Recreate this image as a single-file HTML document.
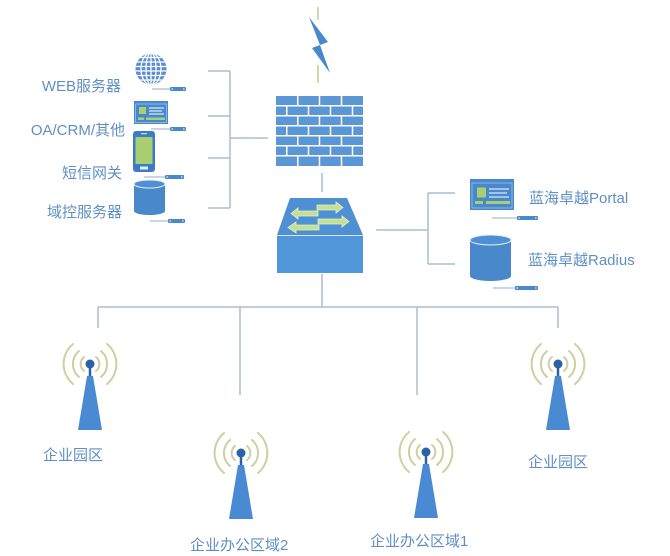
<!DOCTYPE html>
<html><head><meta charset="utf-8"><style>
html,body{margin:0;padding:0;background:#fff;}
svg{display:block;}
text{font-family:"Liberation Sans","Noto Sans CJK SC",sans-serif;font-size:15px;fill:#5f8fc4;}
</style></head><body>
<svg width="670" height="556" viewBox="0 0 670 556" xmlns="http://www.w3.org/2000/svg">
<rect width="670" height="556" fill="#fff"/>
<defs>
<clipPath id="gc"><circle cx="151" cy="69" r="15.5"/></clipPath>
</defs>

<!-- connector lines -->
<g stroke="#a9bdd2" stroke-width="1.5" fill="none">
<path d="M208 71H230M208 116H230M208 158H230M208 208H230M230 71V208M230 138H268"/>
<path d="M322 173V192M322 274V307"/>
<path d="M376 230H428M428 193V264M428 193H455M428 264H455"/>
<path d="M98 307H558M98 307V328M240 307V395M417 307V395M558 307V328"/>
</g>

<!-- lightning -->
<g stroke="#c8c99a" stroke-width="1.5"><path d="M318 7V20M318 65V83"/></g>
<polygon points="309,17 328,42 320,45 330,73 312,48 320,45" fill="#4a88cc"/>

<!-- firewall -->
<rect x="276" y="96" width="87" height="70" fill="#5b96d5"/>
<g stroke="#fff" stroke-width="1.5">
<path d="M276 105.75H363M276 115.75H363M276 125.75H363M276 135.75H363M276 145.75H363M276 155.75H363"/>
<path d="M297.75 96V105M319.5 96V105M341.5 96V105"/>
<path d="M286.75 106V115M308.5 106V115M330.5 106V115M352.5 106V115"/>
<path d="M297.75 116V125M319.5 116V125M341.5 116V125"/>
<path d="M286.75 126V135M308.5 126V135M330.5 126V135M352.5 126V135"/>
<path d="M297.75 136V145M319.5 136V145M341.5 136V145"/>
<path d="M286.75 146V155M308.5 146V155M330.5 146V155M352.5 146V155"/>
<path d="M297.75 156V166M319.5 156V166M341.5 156V166"/>
</g>

<!-- switch -->
<polygon points="290,198 347,198 363,235 277,235" fill="#4f8fd3"/>
<rect x="277" y="236" width="86" height="37" fill="#5196da"/>
<line x1="277" y1="235.5" x2="363" y2="235.5" stroke="#d8e6f5" stroke-width="1"/>
<g fill="#c5e094" stroke="#e4f0c8" stroke-width="0.8">
<polygon points="317,205 336,205 336,202 343,207.5 336,213 336,210 317,210"/>
<polygon points="318,219 342,219 342,216 349,221.5 342,227 342,224 318,224"/>
<polygon points="318,211 298,211 298,208 291,213.5 298,219 298,216 318,216"/>
<polygon points="319,225 296,225 296,222 288,227.5 296,233 296,230 319,230"/>
</g>

<!-- globe -->
<g clip-path="url(#gc)">
<rect x="135" y="53" width="32" height="32" fill="#5b8fcc"/>
<g stroke="#fff" stroke-width="1.3" fill="none">
<path d="M135 57.5H167M135 62H167M135 66.5H167M135 71H167M135 75.5H167M135 80H167"/>
<path d="M151 53V85"/>
<ellipse cx="151" cy="69" rx="5" ry="16"/>
<ellipse cx="151" cy="69" rx="10" ry="16"/>
</g>
</g>

<!-- left monitor -->
<g>
<rect x="134" y="101" width="34" height="23" fill="#4a88cc"/>
<rect x="135.5" y="104" width="31" height="18.5" fill="none" stroke="#9cc2ea" stroke-width="0.8"/>
<rect x="139" y="107" width="7" height="7" fill="#a8d06e"/>
<g stroke="#fff" stroke-width="1"><path d="M149 108H164M149 111H162M149 114H164"/></g>
<rect x="138" y="117.5" width="6" height="2.5" fill="#a8d06e"/>
<rect x="146" y="117.5" width="19" height="2.5" fill="#a8d06e"/>
</g>

<!-- phone -->
<rect x="133" y="131" width="22" height="41" rx="3" fill="#3d7cc4"/>
<rect x="135.5" y="137" width="17" height="27" fill="#a9d070"/>
<rect x="140" y="166.5" width="8" height="3" fill="#e4eef8"/>
<rect x="141" y="133" width="6" height="1.2" fill="#cfe0f2"/>

<!-- left cylinder -->
<path d="M134 184 V211 A15.5 4 0 0 0 165 211 V184 Z" fill="#4a88cc"/>
<ellipse cx="149.5" cy="184" rx="15.5" ry="4" fill="#4f8fd3" stroke="#e8f0f8" stroke-width="1"/>

<!-- portal monitor -->
<g>
<rect x="470" y="179" width="44" height="31" fill="#4a88cc"/>
<rect x="472" y="183" width="40" height="25" fill="none" stroke="#9cc2ea" stroke-width="0.8"/>
<rect x="477" y="187.5" width="9" height="10" fill="#a8d06e"/>
<g stroke="#fff" stroke-width="1.1"><path d="M489 189H509M489 193H507M489 197H509"/></g>
<rect x="475" y="201" width="8" height="3" fill="#a8d06e"/>
<rect x="486" y="201" width="24" height="3" fill="#a8d06e"/>
</g>

<!-- radius cylinder -->
<path d="M470 240 V276 A20.5 5 0 0 0 511 276 V240 Z" fill="#4a88cc"/>
<ellipse cx="490.5" cy="240" rx="20.5" ry="5" fill="#4f8fd3" stroke="#e8f0f8" stroke-width="1"/>

<!-- plugs -->
<g stroke="#a9bdd2" stroke-width="1.3">
<path d="M152 89H170M151 129H170M144 177H165M150 221H168M492 218H517M493 288H515"/>
</g>
<g fill="#4a88cc">
<rect x="170" y="87" width="16" height="4" rx="1"/>
<rect x="170" y="127" width="16" height="4" rx="1"/>
<rect x="165" y="175" width="19" height="4" rx="1"/>
<rect x="168" y="219" width="17" height="4" rx="1"/>
<rect x="517" y="216" width="21" height="4" rx="1"/>
<rect x="515" y="286" width="23" height="4" rx="1"/>
</g>
<g fill="#cfe0f2">
<rect x="171.5" y="88.3" width="1.6" height="1.4"/><rect x="183" y="88.3" width="1.6" height="1.4"/>
<rect x="171.5" y="128.3" width="1.6" height="1.4"/><rect x="183" y="128.3" width="1.6" height="1.4"/>
<rect x="166.5" y="176.3" width="1.6" height="1.4"/><rect x="181" y="176.3" width="1.6" height="1.4"/>
<rect x="169.5" y="220.3" width="1.6" height="1.4"/><rect x="182" y="220.3" width="1.6" height="1.4"/>
<rect x="518.5" y="217.3" width="1.6" height="1.4"/><rect x="535" y="217.3" width="1.6" height="1.4"/>
<rect x="516.5" y="287.3" width="1.6" height="1.4"/><rect x="535" y="287.3" width="1.6" height="1.4"/>
</g>

<!-- antennas -->
<g id="ant1">
<g fill="none" stroke="#cdd0a0" stroke-width="2" stroke-linecap="round">
<path d="M96 357 A9 9 0 0 1 96 371M84 357 A9 9 0 0 0 84 371"/>
<path d="M101 351 A17 17 0 0 1 101 377M79 351 A17 17 0 0 0 79 377"/>
<path d="M107 344 A26 26 0 0 1 107 384M73 344 A26 26 0 0 0 73 384"/>
</g>
<line x1="90" y1="364" x2="90" y2="377" stroke="#2b62a4" stroke-width="2.5"/>
<circle cx="90" cy="364" r="4.5" fill="#2b62a4"/>
<polygon points="87,376 93,376 102,430 78,430" fill="#4a8ad2"/>
</g>
<g transform="translate(151,89)">
<g fill="none" stroke="#cdd0a0" stroke-width="2" stroke-linecap="round">
<path d="M96 357 A9 9 0 0 1 96 371M84 357 A9 9 0 0 0 84 371"/>
<path d="M101 351 A17 17 0 0 1 101 377M79 351 A17 17 0 0 0 79 377"/>
<path d="M107 344 A26 26 0 0 1 107 384M73 344 A26 26 0 0 0 73 384"/>
</g>
<line x1="90" y1="364" x2="90" y2="377" stroke="#2b62a4" stroke-width="2.5"/>
<circle cx="90" cy="364" r="4.5" fill="#2b62a4"/>
<polygon points="87,376 93,376 102,430 78,430" fill="#4a8ad2"/>
</g>
<g transform="translate(336,88)">
<g fill="none" stroke="#cdd0a0" stroke-width="2" stroke-linecap="round">
<path d="M96 357 A9 9 0 0 1 96 371M84 357 A9 9 0 0 0 84 371"/>
<path d="M101 351 A17 17 0 0 1 101 377M79 351 A17 17 0 0 0 79 377"/>
<path d="M107 344 A26 26 0 0 1 107 384M73 344 A26 26 0 0 0 73 384"/>
</g>
<line x1="90" y1="364" x2="90" y2="377" stroke="#2b62a4" stroke-width="2.5"/>
<circle cx="90" cy="364" r="4.5" fill="#2b62a4"/>
<polygon points="87,376 93,376 102,430 78,430" fill="#4a8ad2"/>
</g>
<g transform="translate(468,0)">
<g fill="none" stroke="#cdd0a0" stroke-width="2" stroke-linecap="round">
<path d="M96 357 A9 9 0 0 1 96 371M84 357 A9 9 0 0 0 84 371"/>
<path d="M101 351 A17 17 0 0 1 101 377M79 351 A17 17 0 0 0 79 377"/>
<path d="M107 344 A26 26 0 0 1 107 384M73 344 A26 26 0 0 0 73 384"/>
</g>
<line x1="90" y1="364" x2="90" y2="377" stroke="#2b62a4" stroke-width="2.5"/>
<circle cx="90" cy="364" r="4.5" fill="#2b62a4"/>
<polygon points="87,376 93,376 102,430 78,430" fill="#4a8ad2"/>
</g>

<!-- labels -->
<text x="121" y="91" text-anchor="end">WEB服务器</text>
<text x="125" y="135" text-anchor="end">OA/CRM/其他</text>
<text x="122" y="178" text-anchor="end">短信网关</text>
<text x="122" y="217" text-anchor="end">域控服务器</text>
<text x="529" y="203">蓝海卓越Portal</text>
<text x="528" y="265">蓝海卓越Radius</text>
<text x="43" y="460">企业园区</text>
<text x="528" y="467">企业园区</text>
<text x="190" y="550">企业办公区域2</text>
<text x="370" y="546">企业办公区域1</text>
</svg>
</body></html>
